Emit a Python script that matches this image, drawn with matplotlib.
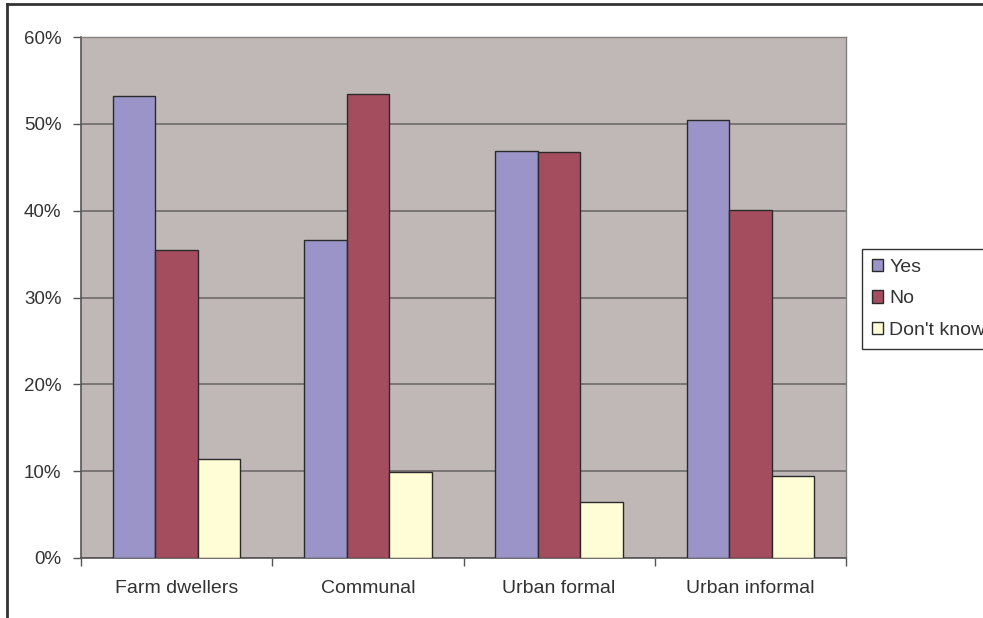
import numpy as np
import matplotlib.pyplot as plt
from matplotlib.lines import Line2D

plt.rcParams['font.family'] = ['Liberation Sans', 'DejaVu Sans']

categories = ["Farm dwellers", "Communal", "Urban formal", "Urban informal"]
yes = [53.2, 36.6, 46.9, 50.4]
no = [35.5, 53.4, 46.8, 40.1]
dont_know = [11.4, 9.9, 6.5, 9.4]

series = [("Yes", yes, "#9A94C8"), ("No", no, "#A34D5E"), ("Don't know", dont_know, "#FFFDD6")]

fig = plt.figure(figsize=(9.83, 6.18), dpi=100)
ax = fig.add_axes([81/983, 1-558/618, (846-81)/983, (558-37)/618])
ax.set_facecolor("#C0B8B6")

x = np.arange(len(categories))
w = 1/4.5
for j, (name, vals, col) in enumerate(series):
    ax.bar(x + (j-1)*w, vals, w, color=col, edgecolor="#2a2a2a", linewidth=1, label=name, zorder=3)

ax.set_xlim(-0.5, 3.5)
ax.set_ylim(0, 60)
ax.set_yticks(np.arange(0, 61, 10))
ax.set_yticklabels([f"{v}%" for v in range(0, 61, 10)])
ax.yaxis.grid(True, color="#6f6b6b", linewidth=1.2, zorder=1)
ax.set_axisbelow(True)

ax.set_xticks(x)
ax.set_xticklabels(categories)
ax.set_xticks(np.arange(-0.5, 3.6, 1), minor=True)
ax.tick_params(axis='x', which='major', length=0, pad=16, labelsize=14, colors="#333333")
ax.tick_params(axis='x', which='minor', length=6, width=1, color="#555555", direction='out')
ax.tick_params(axis='y', length=6, width=1, color="#555555", labelsize=13.5, labelcolor="#333333", pad=8)

for s in ["left", "bottom"]:
    ax.spines[s].set_color("#555555")
    ax.spines[s].set_linewidth(1.2)
for s in ["top", "right"]:
    ax.spines[s].set_color("#808080")
    ax.spines[s].set_linewidth(1)

leg = fig.legend(loc="upper left", bbox_to_anchor=(862/983, 1-249/618), fontsize=14,
                 handlelength=0.6, handleheight=0.6, handletextpad=0.3, labelspacing=0.75,
                 borderpad=0.5, borderaxespad=0, fancybox=False, framealpha=1, edgecolor="#333333")
leg.get_frame().set_linewidth(1)
for t in leg.get_texts():
    t.set_color("#333333")

fig.add_artist(Line2D([7/983, 1], [1-4/618, 1-4/618], color="#333333", linewidth=2, transform=fig.transFigure))
fig.add_artist(Line2D([7/983, 7/983], [0, 1-4/618], color="#333333", linewidth=2, transform=fig.transFigure))

fig.savefig("out.png", dpi=100)
